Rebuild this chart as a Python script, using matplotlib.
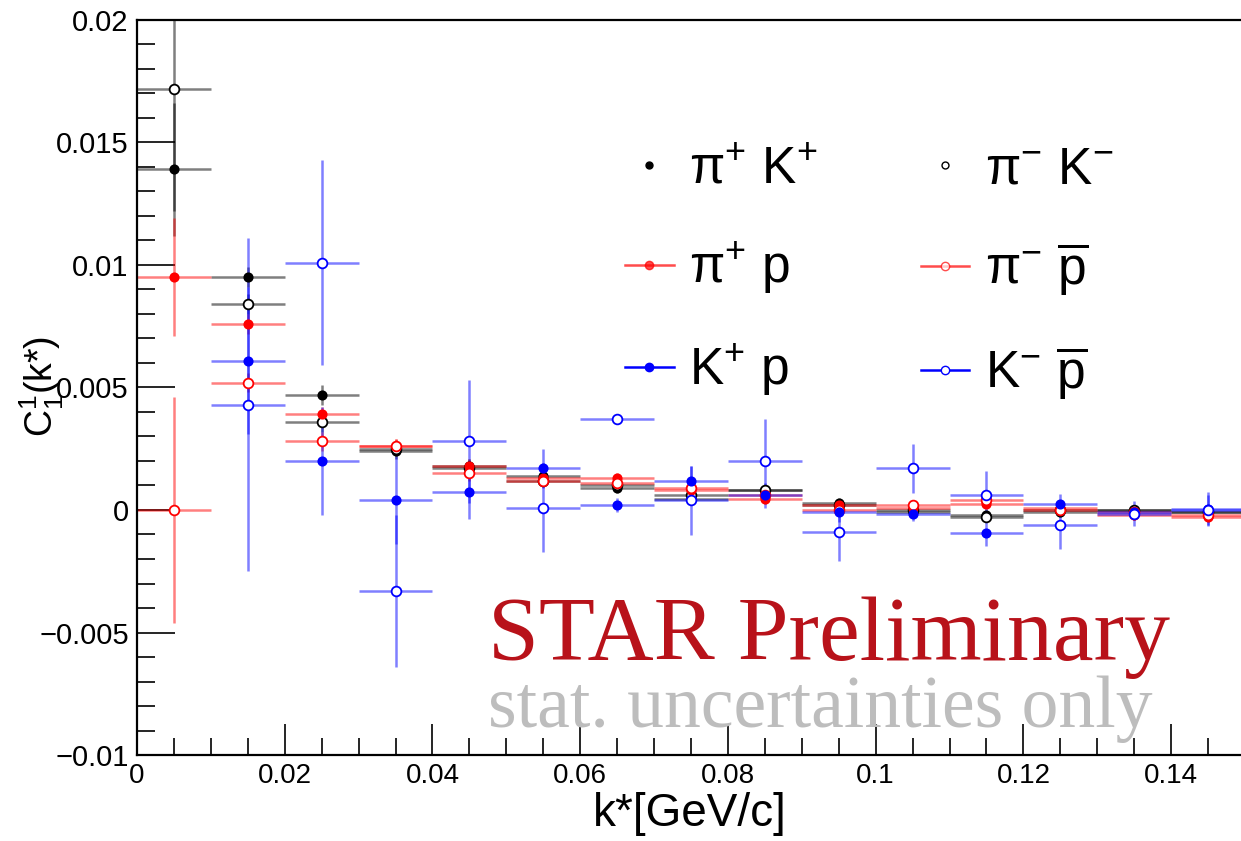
import numpy as np
import matplotlib
matplotlib.use("Agg")
import matplotlib.pyplot as plt
from matplotlib.lines import Line2D
from matplotlib.ticker import MultipleLocator

plt.rcParams['font.family'] = ['Liberation Sans', 'DejaVu Sans']
plt.rcParams['mathtext.fontset'] = 'custom'
plt.rcParams['mathtext.rm'] = 'Liberation Sans'
plt.rcParams['mathtext.it'] = 'Liberation Sans:italic'

# bin centres of k* [GeV/c], bin width 0.01
kstar = [0.005, 0.015, 0.025, 0.035, 0.045, 0.055, 0.065, 0.075,
         0.085, 0.095, 0.105, 0.115, 0.125, 0.135, 0.145]
half_bin = 0.005

# C^1_1(k*) values, with stat. errors
pipKp = [0.0139, 0.0095, 0.0047, 0.0024, 0.0018, 0.0014, 0.0009, 0.00045,
         0.0008, 0.0003, -0.0001, -0.0002, -0.0001, 0.0, -0.0001]
pipKp_err = [0.0027, 0.0004, 0.0004, 0.0003, 0.0003, 0.0002, 0.0002, 0.0002,
             0.0002, 0.0002, 0.0002, 0.0002, 0.0002, 0.0002, 0.0002]

pimKm = [0.0172, 0.0084, 0.0036, 0.0025, 0.0017, 0.0012, 0.0010, 0.0006,
         0.0008, 0.0002, 0.0, -0.0003, 0.0, 0.0, -0.0001]
pimKm_err = [0.005, 0.0004, 0.0004, 0.0003, 0.0003, 0.0002, 0.0002, 0.0002,
             0.0002, 0.0002, 0.0002, 0.0002, 0.0002, 0.0002, 0.0002]

pipP = [0.0095, 0.0076, 0.0039, 0.0026, 0.0018, 0.0013, 0.0013, 0.0008,
        0.00045, 0.0002, 0.0001, 0.00025, 0.0001, -0.0002, -0.0003]
pipP_err = [0.0024, 0.0004, 0.0003, 0.0003, 0.0003, 0.0002, 0.0002, 0.0002,
            0.0002, 0.0002, 0.0002, 0.0002, 0.0002, 0.0002, 0.0002]

pimPbar = [0.0, 0.0052, 0.0028, 0.0026, 0.0015, 0.0012, 0.0011, 0.0009,
           0.0006, 0.0, 0.0002, 0.0004, 0.0, -0.0001, -0.0002]
pimPbar_err = [0.0046, 0.0004, 0.0004, 0.0003, 0.0003, 0.0002, 0.0002, 0.0002,
               0.0002, 0.0002, 0.0002, 0.0002, 0.0002, 0.0002, 0.0002]

KpP = [np.nan, 0.0061, 0.0020, 0.0004, 0.00074, 0.0017, 0.0002, 0.0012,
       0.0006, -0.0001, -0.00015, -0.00095, 0.00025, -0.0001, 0.00005]
KpP_err = [np.nan, 0.003, 0.0022, 0.0018, 0.0011, 0.0008, 0.0003, 0.0006,
           0.0005, 0.0004, 0.0003, 0.0005, 0.0004, 0.0003, 0.0007]

KmPbar = [np.nan, 0.0043, 0.0101, -0.0033, 0.0028, 0.0001, 0.0037, 0.0004,
          0.0020, -0.0009, 0.0017, 0.0006, -0.0006, -0.00015, 0.0]
KmPbar_err = [np.nan, 0.0068, 0.0042, 0.0031, 0.0025, 0.0018, 0.0, 0.0014,
              0.0017, 0.0012, 0.0010, 0.0010, 0.0010, 0.0005, 0.0006]

ytick_vals = [-0.01, -0.005, 0.0, 0.005, 0.01, 0.015, 0.02]
ytick_labels = ['\u22120.01', '\u22120.005', '0', '0.005', '0.01', '0.015', '0.02']
xtick_vals = [0.0, 0.02, 0.04, 0.06, 0.08, 0.1, 0.12, 0.14]
xtick_labels = ['0', '0.02', '0.04', '0.06', '0.08', '0.1', '0.12', '0.14']

series = [
    (pipKp, pipKp_err, '\u03c0$^{+}$ K$^{+}$', 'black', True),
    (pimKm, pimKm_err, '\u03c0$^{-}$ K$^{-}$', 'black', False),
    (pipP, pipP_err, '\u03c0$^{+}$ p', 'red', True),
    (pimPbar, pimPbar_err, '\u03c0$^{-}$ $\\overline{\\mathrm{p}}$', 'red', False),
    (KpP, KpP_err, 'K$^{+}$ p', 'blue', True),
    (KmPbar, KmPbar_err, 'K$^{-}$ $\\overline{\\mathrm{p}}$', 'blue', False),
]

fig = plt.figure(figsize=(12.41, 8.41), dpi=100)
ax = fig.add_axes([137 / 1241, 86 / 841, 1108 / 1241, 735 / 841])

handles = []
for vals, errs, label, col, filled in series:
    mfc = col if filled else 'white'
    ms = 6 if filled else 7
    eb = ax.errorbar(kstar, vals, yerr=errs, xerr=half_bin, fmt='o', color=col,
                     ecolor=col, elinewidth=1.8, capsize=0, ms=ms, mfc=mfc,
                     mec=col, mew=1.3)
    for lc in eb[2]:
        lc.set_alpha(0.5)
    if col == 'black':
        h = Line2D([], [], ls='none', marker='o', color=col, mfc=mfc, ms=5, mew=1.0)
    else:
        h = Line2D([], [], ls='-', lw=1.8, marker='o', color=col, mfc=mfc, ms=6, mew=1.0,
                   alpha=0.7 if col == 'red' else 1.0)
    handles.append((h, label))

ax.set_xlim(0, 0.15)
ax.set_ylim(-0.01, 0.02)
ax.set_yticks(ytick_vals)
ax.set_yticklabels(ytick_labels)
ax.set_xticks(xtick_vals)
ax.set_xticklabels(xtick_labels)
ax.yaxis.set_minor_locator(MultipleLocator(0.001))
ax.xaxis.set_minor_locator(MultipleLocator(0.005))
ax.tick_params(axis='both', which='both', direction='in', top=False, right=False)
ax.tick_params(axis='y', which='major', length=27, width=1.2, labelsize=21, pad=6)
ax.tick_params(axis='y', which='minor', length=13, width=1.2)
ax.tick_params(axis='x', which='major', length=22, width=1.2, labelsize=20, pad=6)
ax.tick_params(axis='x', which='minor', length=12, width=1.2)
for sp in ax.spines.values():
    sp.set_linewidth(1.6)

fig.text(0.556, 0.006, 'k*[GeV/c]', fontsize=33, ha='center', va='bottom')
fig.text(0.034, 0.54, 'C$^{1}_{1}$(k*)', fontsize=27, rotation=90,
         ha='center', va='center')

# legend, two columns filled row-wise
order = [0, 2, 4, 1, 3, 5]
leg = ax.legend([handles[i][0] for i in order], [handles[i][1] for i in order],
                ncol=2, loc='upper left', bbox_to_anchor=(625 / 1241, 1 - 145 / 841),
                bbox_transform=fig.transFigure, frameon=False, fontsize=37,
                handlelength=0.95, handletextpad=0.3, columnspacing=2.0,
                labelspacing=0.9, borderpad=0, borderaxespad=0)

fig.text(488 / 1241, 1 - 660 / 841, 'STAR Preliminary', fontsize=66,
         family='Liberation Serif', color='#b8121a', ha='left', va='baseline')
fig.text(488 / 1241, 1 - 727 / 841, 'stat. uncertainties only', fontsize=53,
         family='Liberation Serif', color='#bdbdbd', ha='left', va='baseline')

fig.savefig('out.png', dpi=100)
